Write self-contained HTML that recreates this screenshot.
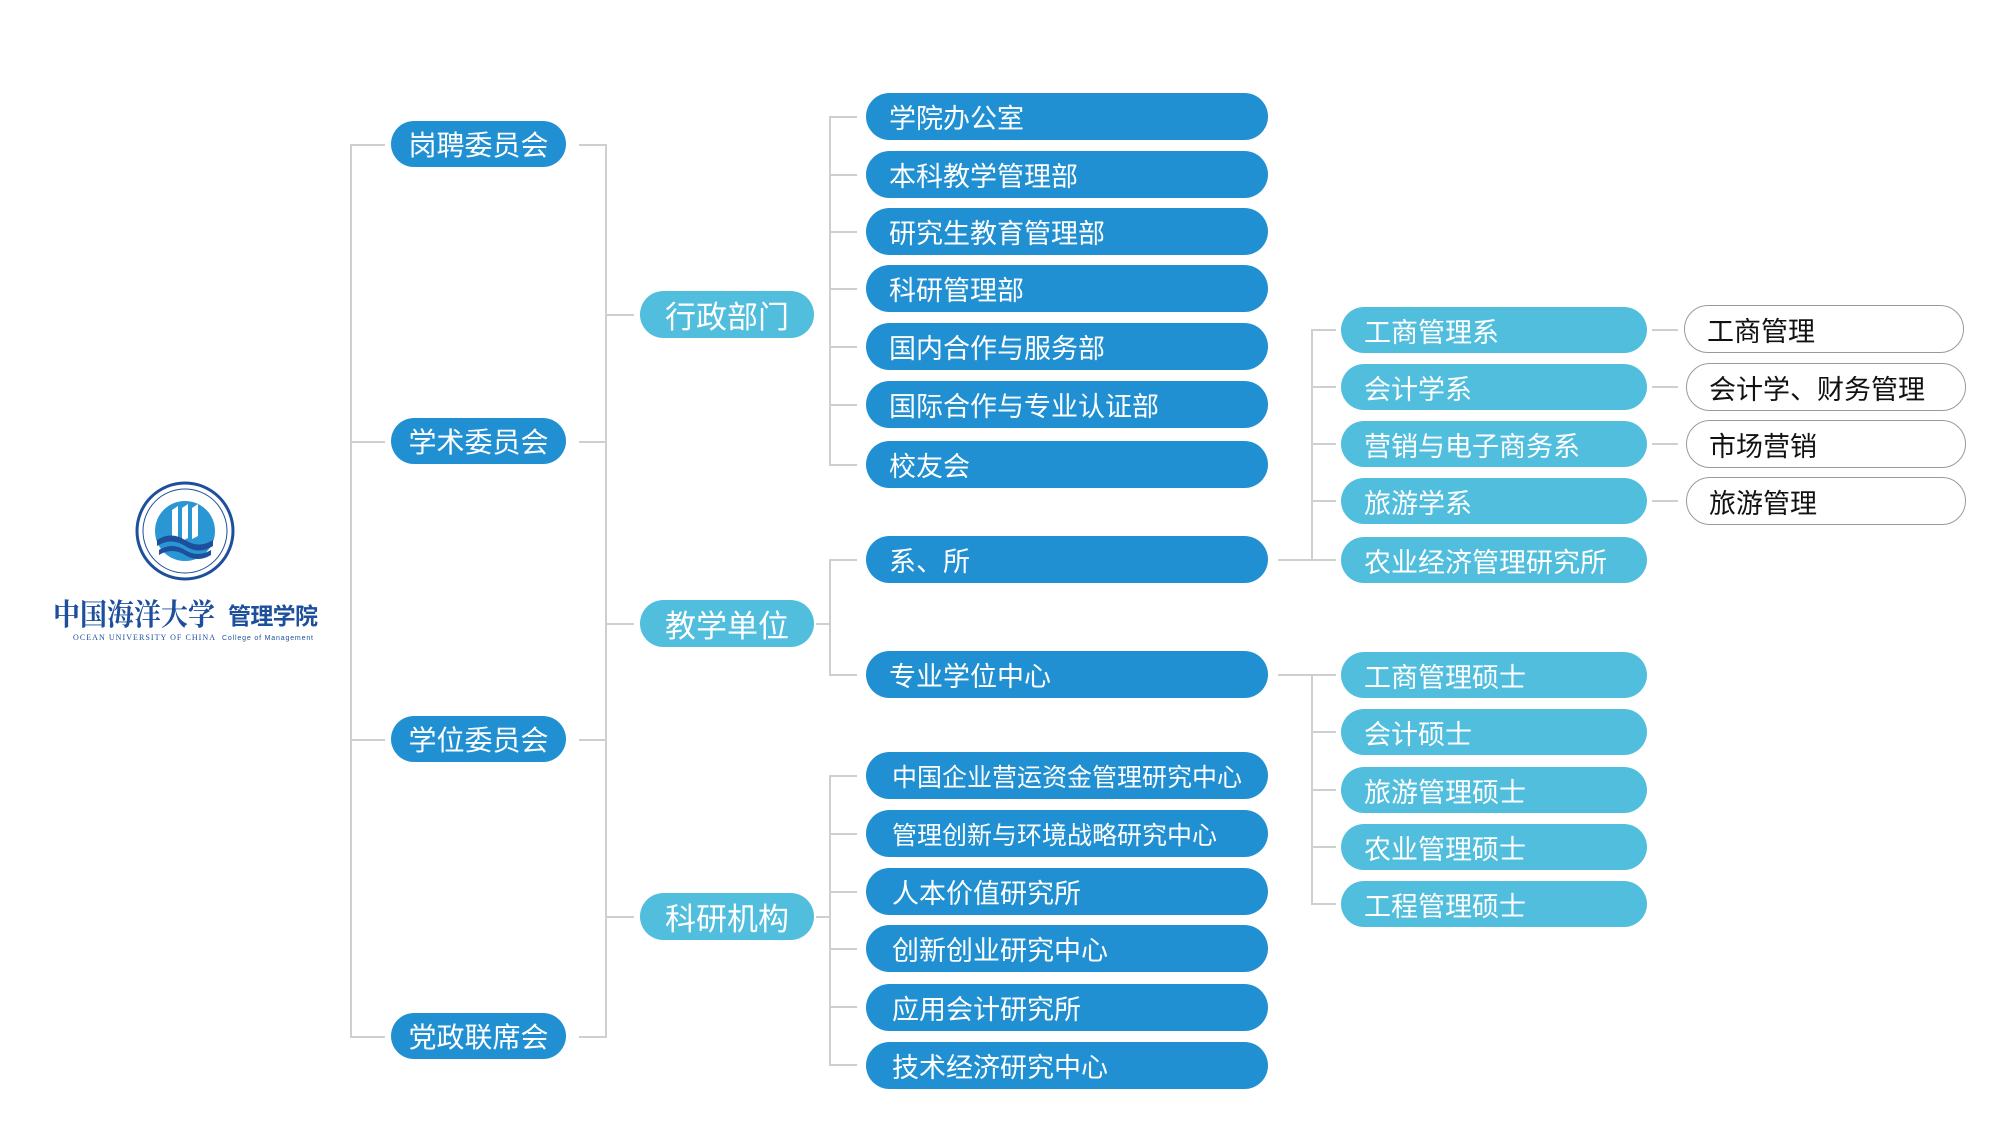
<!DOCTYPE html>
<html><head><meta charset="utf-8">
<style>
body{margin:0;width:1998px;height:1142px;background:#fff;position:relative;overflow:hidden;font-family:"Liberation Sans","Noto Sans CJK SC",sans-serif;}
.p{position:absolute;box-sizing:border-box;border-radius:24px;color:#fff;display:flex;align-items:center;white-space:nowrap;}
.d{background:#2090d2;}
.l{background:#50bedc;}
.w{background:#fff;border:1.5px solid #9a9a9a;color:#111;}
svg{position:absolute;left:0;top:0;}
</style></head><body>
<svg width="1998" height="1142">
<g stroke="#cfcfcf" stroke-width="2" fill="none">
<path d="M385 145H351V1037H385M351 442H385M351 740H385"/>
<path d="M579 145H606V1037H579M579 442H606M579 740H606M606 315H634M606 624H634M606 917H634"/>
<path d="M857 117H830V465H857M830 175H857M830 232H857M830 289H857M830 347H857M830 405H857"/>
<path d="M857 560H830V675H857M816 624H830"/>
<path d="M857 776H830V1065H857M816 917H830M830 834H857M830 892H857M830 949H857M830 1007H857"/>
<path d="M1278 560H1312M1336 330H1312V560H1336M1312 387H1336M1312 444H1336M1312 501H1336"/>
<path d="M1278 675H1312M1336 675H1312V904H1336M1312 732H1336M1312 790H1336M1312 847H1336"/>
<path d="M1652 330H1678M1652 387H1678M1652 444H1678M1652 501H1678"/>
</g>
<g>
<circle cx="185" cy="531" r="48" fill="#fff" stroke="#1d4f9c" stroke-width="3"/>
<circle cx="185" cy="531" r="42" fill="none" stroke="#1d4f9c" stroke-width="1"/>
<circle cx="185" cy="531" r="30" fill="#2a96d4"/>
<path d="M172 510l6-4v32l-6 3zM182 508l6-4v34l-6 3zM192 508l6-4v32l-6 3z" fill="#fff"/>
<path d="M157 540q14-9 28 0t28 0v6q-14 9-28 0t-28 0zM159 550q13-8 26 0t26 0v5q-13 8-26 0t-26 0z" fill="#1d4f9c"/>
</g>
<text x="53" y="625" font-family="Noto Serif CJK SC,serif" font-weight="bold" font-size="30" fill="#1d4f9c" textLength="162" lengthAdjust="spacingAndGlyphs">中国海洋大学</text>
<text x="228" y="624" font-family="Noto Sans CJK SC,sans-serif" font-weight="bold" font-size="23" fill="#1d4f9c" textLength="90">管理学院</text>
<text x="73" y="640" font-family="Liberation Serif,serif" font-size="8" fill="#1d4f9c" textLength="142">OCEAN UNIVERSITY OF CHINA</text>
<text x="222" y="640" font-family="Liberation Sans,sans-serif" font-size="7" fill="#1d4f9c" textLength="91">College of Management</text>
</svg>

<div class="p d" style="left:391px;top:121px;width:175px;height:46px;justify-content:center;font-size:28px">岗聘委员会</div>
<div class="p d" style="left:391px;top:418px;width:175px;height:46px;justify-content:center;font-size:28px">学术委员会</div>
<div class="p d" style="left:391px;top:716px;width:175px;height:46px;justify-content:center;font-size:28px">学位委员会</div>
<div class="p d" style="left:391px;top:1013px;width:175px;height:46px;justify-content:center;font-size:28px">党政联席会</div>

<div class="p l" style="left:640px;top:291px;width:174px;height:47px;justify-content:center;font-size:31px">行政部门</div>
<div class="p l" style="left:640px;top:600px;width:174px;height:47px;justify-content:center;font-size:31px">教学单位</div>
<div class="p l" style="left:640px;top:893px;width:174px;height:47px;justify-content:center;font-size:31px">科研机构</div>

<div class="p d" style="left:866px;top:93px;width:402px;height:47px;padding-left:23px;font-size:27px">学院办公室</div>
<div class="p d" style="left:866px;top:151px;width:402px;height:47px;padding-left:23px;font-size:27px">本科教学管理部</div>
<div class="p d" style="left:866px;top:208px;width:402px;height:47px;padding-left:23px;font-size:27px">研究生教育管理部</div>
<div class="p d" style="left:866px;top:265px;width:402px;height:47px;padding-left:23px;font-size:27px">科研管理部</div>
<div class="p d" style="left:866px;top:323px;width:402px;height:47px;padding-left:23px;font-size:27px">国内合作与服务部</div>
<div class="p d" style="left:866px;top:381px;width:402px;height:47px;padding-left:23px;font-size:27px">国际合作与专业认证部</div>
<div class="p d" style="left:866px;top:441px;width:402px;height:47px;padding-left:23px;font-size:27px">校友会</div>

<div class="p d" style="left:866px;top:536px;width:402px;height:47px;padding-left:23px;font-size:27px">系、所</div>
<div class="p d" style="left:866px;top:651px;width:402px;height:47px;padding-left:23px;font-size:27px">专业学位中心</div>

<div class="p d" style="left:866px;top:752px;width:402px;height:47px;padding-left:26px;font-size:25px">中国企业营运资金管理研究中心</div>
<div class="p d" style="left:866px;top:810px;width:402px;height:47px;padding-left:26px;font-size:25px">管理创新与环境战略研究中心</div>
<div class="p d" style="left:866px;top:868px;width:402px;height:47px;padding-left:26px;font-size:27px">人本价值研究所</div>
<div class="p d" style="left:866px;top:925px;width:402px;height:47px;padding-left:26px;font-size:27px">创新创业研究中心</div>
<div class="p d" style="left:866px;top:984px;width:402px;height:47px;padding-left:26px;font-size:27px">应用会计研究所</div>
<div class="p d" style="left:866px;top:1042px;width:402px;height:47px;padding-left:26px;font-size:27px">技术经济研究中心</div>

<div class="p l" style="left:1341px;top:307px;width:306px;height:46px;padding-left:23px;font-size:27px">工商管理系</div>
<div class="p l" style="left:1341px;top:364px;width:306px;height:46px;padding-left:23px;font-size:27px">会计学系</div>
<div class="p l" style="left:1341px;top:421px;width:306px;height:46px;padding-left:23px;font-size:27px">营销与电子商务系</div>
<div class="p l" style="left:1341px;top:478px;width:306px;height:46px;padding-left:23px;font-size:27px">旅游学系</div>
<div class="p l" style="left:1341px;top:537px;width:306px;height:46px;padding-left:23px;font-size:27px">农业经济管理研究所</div>

<div class="p l" style="left:1341px;top:652px;width:306px;height:46px;padding-left:23px;font-size:27px">工商管理硕士</div>
<div class="p l" style="left:1341px;top:709px;width:306px;height:46px;padding-left:23px;font-size:27px">会计硕士</div>
<div class="p l" style="left:1341px;top:767px;width:306px;height:46px;padding-left:23px;font-size:27px">旅游管理硕士</div>
<div class="p l" style="left:1341px;top:824px;width:306px;height:46px;padding-left:23px;font-size:27px">农业管理硕士</div>
<div class="p l" style="left:1341px;top:881px;width:306px;height:46px;padding-left:23px;font-size:27px">工程管理硕士</div>

<div class="p w" style="left:1684px;top:305px;width:280px;height:48px;padding-left:22px;font-size:27px">工商管理</div>
<div class="p w" style="left:1686px;top:363px;width:280px;height:48px;padding-left:22px;font-size:27px">会计学、财务管理</div>
<div class="p w" style="left:1686px;top:420px;width:280px;height:48px;padding-left:22px;font-size:27px">市场营销</div>
<div class="p w" style="left:1686px;top:477px;width:280px;height:48px;padding-left:22px;font-size:27px">旅游管理</div>
</body></html>
